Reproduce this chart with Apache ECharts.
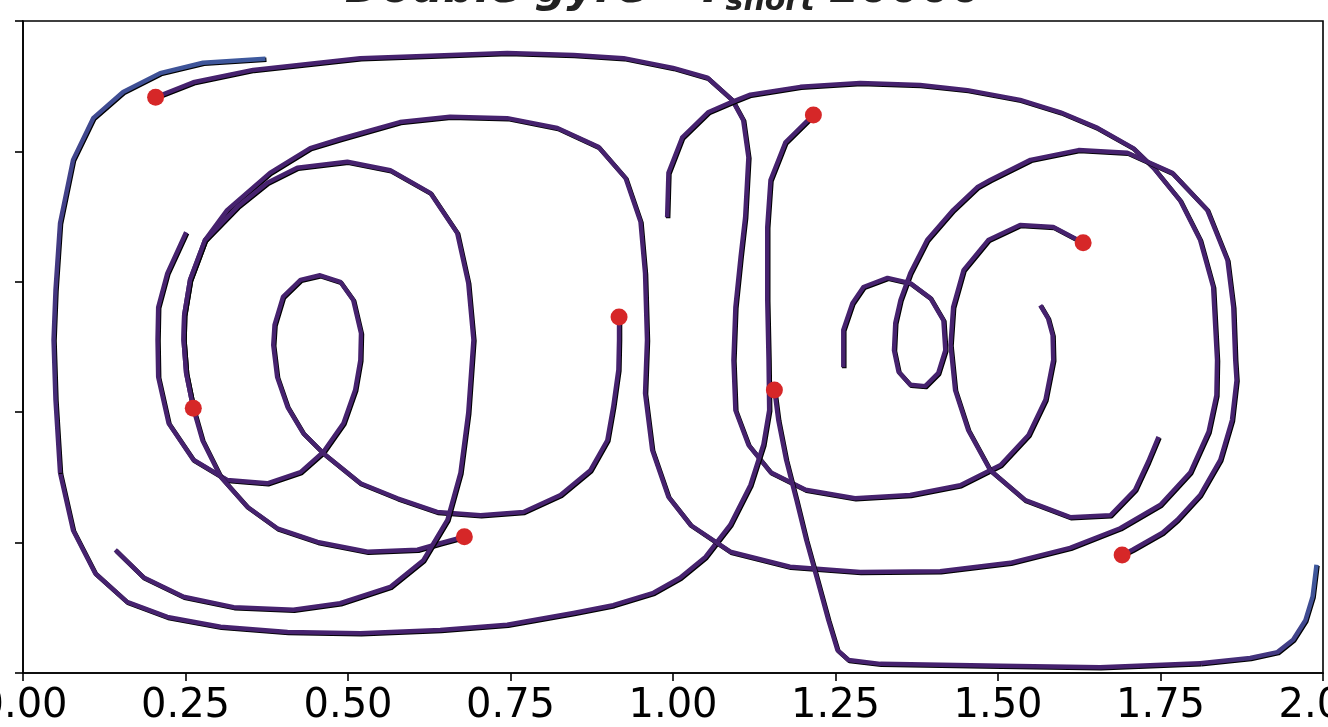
<!DOCTYPE html>
<html>
<head>
<meta charset="utf-8">
<script src="https://cdn.jsdelivr.net/npm/echarts@6/dist/echarts.min.js"></script>
<style>
  html, body { margin: 0; padding: 0; background: #ffffff; }
  #chart { width: 1328px; height: 727px; }
</style>
</head>
<body>
<div id="chart"></div>
<script>
// Particle trajectories in the double-gyre flow; the first point of each path is its seed.
const xTicks = [0, 0.25, 0.5, 0.75, 1.0, 1.25, 1.5, 1.75, 2.0];
const yTicks = [0, 0.2, 0.4, 0.6, 0.8, 1.0];

const trajA = [[0.204,0.883],[0.262,0.906],[0.354,0.925],[0.519,0.943],[0.745,0.951],[0.847,0.948],[0.924,0.943],[1.000,0.928],[1.053,0.913],[1.091,0.879],[1.108,0.848],[1.116,0.791],[1.111,0.699],[1.104,0.638],[1.096,0.561],[1.093,0.480],[1.096,0.403],[1.116,0.350],[1.150,0.308],[1.204,0.281],[1.280,0.268],[1.365,0.273],[1.442,0.288],[1.504,0.319],[1.547,0.365],[1.573,0.419],[1.585,0.480],[1.584,0.518],[1.577,0.544],[1.565,0.564]];

const trajB = [[1.216,0.856],[1.173,0.814],[1.150,0.756],[1.145,0.684],[1.145,0.572],[1.147,0.480],[1.148,0.403],[1.139,0.350],[1.119,0.288],[1.088,0.227],[1.050,0.178],[1.011,0.146],[0.970,0.123],[0.908,0.104],[0.847,0.092],[0.745,0.074],[0.642,0.066],[0.519,0.061],[0.407,0.063],[0.304,0.071],[0.222,0.086],[0.160,0.109],[0.111,0.153],[0.077,0.219],[0.057,0.307],[0.050,0.419],[0.047,0.511],[0.050,0.587],[0.057,0.690],[0.077,0.787],[0.108,0.851],[0.154,0.891],[0.211,0.920],[0.277,0.936],[0.373,0.942]];

const trajC = [[0.917,0.546],[0.917,0.511],[0.916,0.465],[0.908,0.408],[0.899,0.357],[0.873,0.311],[0.827,0.273],[0.770,0.247],[0.704,0.242],[0.637,0.247],[0.576,0.268],[0.519,0.291],[0.462,0.337],[0.431,0.368],[0.407,0.408],[0.391,0.454],[0.385,0.503],[0.387,0.534],[0.400,0.577],[0.427,0.603],[0.457,0.610],[0.488,0.600],[0.508,0.572],[0.520,0.521],[0.519,0.480],[0.511,0.434],[0.493,0.383],[0.462,0.339],[0.427,0.308],[0.376,0.291],[0.314,0.296],[0.262,0.327],[0.224,0.383],[0.208,0.454],[0.207,0.511],[0.208,0.561],[0.222,0.613],[0.251,0.676]];

const trajD = [[0.679,0.209],[0.642,0.199],[0.607,0.189],[0.530,0.186],[0.453,0.201],[0.391,0.222],[0.345,0.255],[0.304,0.301],[0.276,0.357],[0.262,0.406],[0.251,0.460],[0.247,0.511],[0.248,0.549],[0.257,0.603],[0.280,0.664],[0.314,0.710],[0.380,0.767],[0.442,0.805],[0.488,0.819],[0.580,0.845],[0.657,0.853],[0.745,0.851],[0.822,0.836],[0.885,0.807],[0.927,0.759],[0.950,0.692],[0.957,0.613],[0.960,0.511],[0.957,0.429],[0.968,0.342],[0.993,0.270],[1.027,0.227],[1.088,0.186],[1.180,0.163],[1.288,0.155],[1.411,0.156],[1.519,0.169],[1.611,0.192],[1.688,0.222],[1.750,0.258],[1.796,0.308],[1.824,0.370],[1.836,0.426],[1.837,0.480],[1.831,0.592],[1.811,0.664],[1.780,0.725],[1.739,0.775],[1.708,0.805],[1.653,0.836],[1.596,0.860],[1.534,0.879],[1.453,0.894],[1.380,0.902],[1.288,0.905],[1.196,0.899],[1.119,0.887],[1.091,0.876],[1.054,0.860],[1.014,0.821],[0.993,0.767],[0.991,0.699]];

const trajE = [[0.262,0.406],[0.251,0.460],[0.247,0.511],[0.248,0.549],[0.257,0.603],[0.280,0.664],[0.330,0.715],[0.376,0.752],[0.422,0.775],[0.499,0.784],[0.565,0.771],[0.627,0.736],[0.668,0.675],[0.685,0.598],[0.693,0.511],[0.685,0.399],[0.673,0.307],[0.653,0.235],[0.616,0.173],[0.565,0.132],[0.488,0.107],[0.416,0.097],[0.324,0.101],[0.247,0.117],[0.185,0.147],[0.142,0.189]];

const trajF = [[1.631,0.660],[1.585,0.684],[1.534,0.687],[1.485,0.664],[1.447,0.618],[1.431,0.561],[1.427,0.503],[1.434,0.434],[1.454,0.373],[1.488,0.311],[1.542,0.265],[1.611,0.239],[1.673,0.242],[1.711,0.281],[1.731,0.324],[1.747,0.362]];

const trajG = [[1.691,0.181],[1.707,0.189],[1.753,0.215],[1.776,0.235],[1.811,0.273],[1.842,0.327],[1.860,0.388],[1.867,0.449],[1.865,0.480],[1.862,0.561],[1.853,0.633],[1.822,0.710],[1.768,0.767],[1.699,0.798],[1.624,0.802],[1.550,0.787],[1.488,0.756],[1.468,0.745],[1.431,0.710],[1.391,0.664],[1.365,0.613],[1.350,0.572],[1.342,0.537],[1.340,0.495],[1.347,0.462],[1.365,0.442],[1.388,0.440],[1.408,0.460],[1.419,0.495],[1.416,0.541],[1.396,0.575],[1.365,0.598],[1.330,0.606],[1.293,0.592],[1.276,0.567],[1.262,0.526],[1.262,0.469]];

const trajH = [[1.156,0.434],[1.162,0.388],[1.174,0.327],[1.190,0.265],[1.205,0.204],[1.222,0.143],[1.239,0.081],[1.253,0.035],[1.270,0.020],[1.319,0.014],[1.504,0.011],[1.657,0.009],[1.811,0.015],[1.888,0.023],[1.930,0.032],[1.954,0.051],[1.973,0.081],[1.984,0.117],[1.990,0.166]];

const trajectories = [trajA, trajB, trajC, trajD, trajE, trajF, trajG, trajH];
// number of closing points of a path that fade toward blue
const tailLength = [0, 11, 0, 0, 0, 0, 0, 7];

const PURPLE = '#46226e';
const BLUE = '#3e5a9e';

const chart = echarts.init(document.getElementById('chart'), null, { renderer: 'canvas' });

const lineStyleBase = {
  width: 4.5,
  cap: 'butt',
  join: 'round',
  shadowColor: '#000000',
  shadowBlur: 0,
  shadowOffsetX: 1,
  shadowOffsetY: 1
};

const series = [];
trajectories.forEach((path, i) => {
  const tail = tailLength[i];
  const bodyEnd = tail > 0 ? path.length - tail + 1 : path.length;
  series.push({
    type: 'line',
    data: path.slice(0, bodyEnd),
    showSymbol: false,
    symbol: 'none',
    silent: true,
    z: 2,
    lineStyle: Object.assign({ color: PURPLE }, lineStyleBase)
  });
  if (tail > 0) {
    const seg = path.slice(bodyEnd - 1);
    const first = seg[0], last = seg[seg.length - 1];
    // gradient box runs in screen space (y grows downward)
    const x1 = first[0] <= last[0] ? 0 : 1;
    const y1 = first[1] <= last[1] ? 1 : 0;
    const grad = new echarts.graphic.LinearGradient(
      x1, y1, 1 - x1, 1 - y1,
      [{ offset: 0, color: PURPLE }, { offset: 1, color: BLUE }]
    );
    series.push({
      type: 'line',
      data: seg,
      showSymbol: false,
      symbol: 'none',
      silent: true,
      z: 2,
      lineStyle: Object.assign({ color: grad }, lineStyleBase)
    });
  }
});

series.push({
  type: 'scatter',
  data: trajectories.map(p => p[0]),
  symbol: 'circle',
  symbolSize: 17,
  z: 5,
  itemStyle: { color: '#d62728', opacity: 1 }
});

const option = {
  animation: false,
  backgroundColor: '#ffffff',
  title: {
    text: '{a|Double gyre - T}{s|short}{a| 20000}',
    left: 'center',
    top: -40,
    textStyle: {
      rich: {
        a: { fontFamily: 'DejaVu Sans', fontSize: 44, fontWeight: 'bold', fontStyle: 'italic', color: '#222222' },
        s: { fontFamily: 'DejaVu Sans', fontSize: 30, fontWeight: 'bold', fontStyle: 'italic', color: '#222222', padding: [22, 0, 0, 0] }
      }
    }
  },
  grid: {
    left: 23, right: 5, top: 21, bottom: 54,
    containLabel: false,
    outerBoundsMode: 'none',
    show: true, borderColor: '#000000', borderWidth: 1.6, backgroundColor: 'transparent'
  },
  xAxis: {
    type: 'value',
    min: xTicks[0], max: xTicks[xTicks.length - 1], interval: 0.25,
    axisLine: { show: true, lineStyle: { color: '#000000', width: 1.6 } },
    axisTick: { show: true, length: 8, lineStyle: { color: '#000000', width: 1.6 } },
    splitLine: { show: false },
    axisLabel: {
      show: true, margin: 14, color: '#000000', fontFamily: 'DejaVu Sans', fontSize: 40,
      showMinLabel: true, showMaxLabel: true,
      formatter: v => v.toFixed(2)
    }
  },
  yAxis: {
    type: 'value',
    min: yTicks[0], max: yTicks[yTicks.length - 1], interval: 0.2,
    axisLine: { show: true, lineStyle: { color: '#000000', width: 1.6 } },
    axisTick: { show: true, length: 8, lineStyle: { color: '#000000', width: 1.6 } },
    splitLine: { show: false },
    axisLabel: { show: false }
  },
  series: series
};

chart.setOption(option);
</script>
</body>
</html>
